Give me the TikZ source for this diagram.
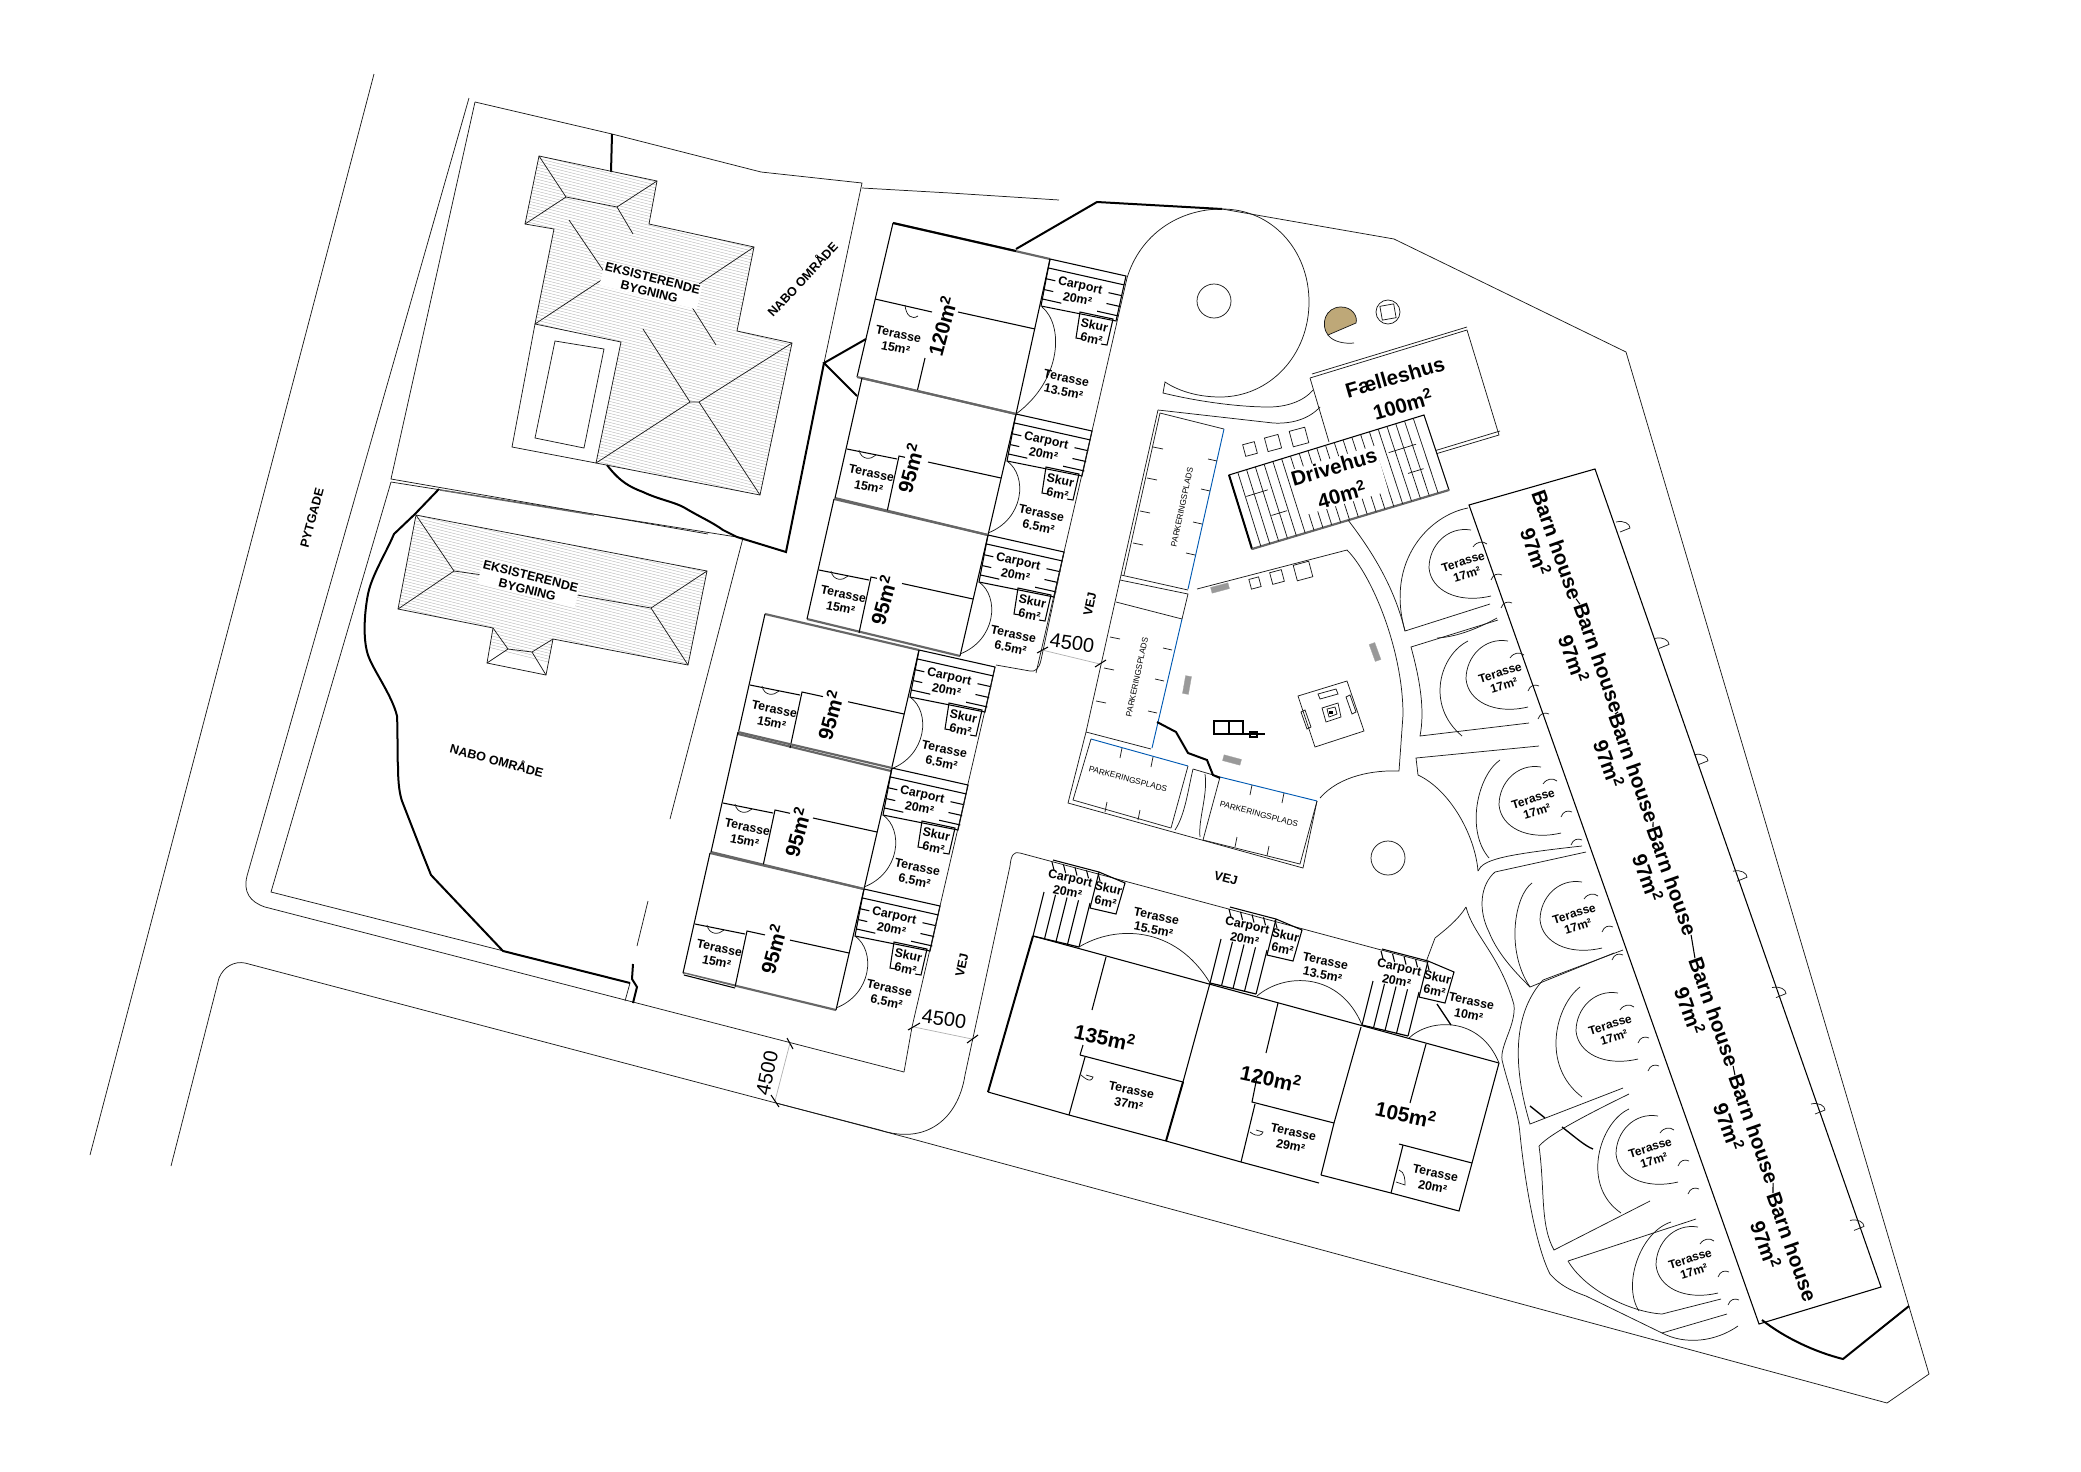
\documentclass[tikz,border=0pt]{standalone}
\usepackage{fontspec}
\setmainfont{Liberation Sans}
\definecolor{tanfill}{RGB}{190,168,120}
\tikzset{
  thinln/.style={line width=0.55pt,draw=black!90},
  heavyln/.style={line width=1.5pt,draw=black},
  wallln/.style={line width=0.8pt,draw=black},
  grayln/.style={line width=1.6pt,draw=black!60},
  blueln/.style={line width=0.7pt,draw=blue!50!cyan!70!black},
  hatchln/.style={line width=0.25pt,draw=black!35},
  terlbl/.style={rotate=-12,align=center,inner sep=0pt,font=\bfseries\fontsize{9.3}{10.6}\selectfont},
  gardlbl/.style={rotate=17,align=center,inner sep=0pt,font=\bfseries\fontsize{9}{10}\selectfont},
  arealbl/.style={rotate=75,align=center,inner sep=0pt,font=\bfseries\fontsize{15.5}{18}\selectfont},
  southar/.style={rotate=-12,inner sep=0pt,font=\bfseries\fontsize{15.5}{18}\selectfont},
  hallbl/.style={rotate=16,align=center,inner sep=0pt,font=\bfseries\fontsize{15.5}{22}\selectfont},
  barnlbl/.style={rotate=-70.5,inner sep=0pt,font=\bfseries\fontsize{15.5}{18}\selectfont},
  parklbl/.style={inner sep=0pt,font=\fontsize{6.2}{7}\selectfont},
  namelbl/.style={align=center,inner sep=1pt,font=\bfseries\fontsize{9.4}{10.4}\selectfont},
  dimlbl/.style={inner sep=0pt,font=\fontsize{15}{18}\selectfont},
}
\newcommand{\roofhatch}[1]{\begin{scope}\clip #1;
  \foreach \i in {90,93,...,600}{\draw[hatchln] (300,\i) -- ++(600,150);}
\end{scope}}
% carport and shed, origin on the house corner
\newcommand{\carskur}[1]{
  \draw[wallln] (0,0) -- (76,17) -- (66,62) -- (-9,47) -- cycle;
  \foreach \t/\fa/\fb in {0.19/0/1,0.42/0/0.12,0.42/0.82/1,0.65/0/0.12,0.65/0.82/1,0.85/0/0.25,0.85/0.72/1}
    {\draw[wallln] ({-9*\t+76*\fa},{47*\t+17*\fa}) -- ({-9*\t+76*\fb},{47*\t+17*\fb});}
  \draw[wallln] (32,80) -- (26,79) -- (30,53) -- (63,60) -- (57,86) -- (51,85);
  \node[terlbl] (#1car) at (29,33) {Carport\\20m²};
  \node[terlbl] (#1sk) at (43,73) {Skur\\6m²};
}
% one house of the west rows: x, y, name, label x, label y, gap end, stub end
\newcommand{\rowunit}[7]{\begin{scope}[shift={(#1,#2)}]
  \carskur{#3}
  \draw[grayln] (-154,-36) -- (0,0);
  \draw[grayln] (-181,84) -- (-28,121);
  \draw[wallln] (-154,-36) -- (-181,84);
  \draw[wallln] (0,0) -- (-28,121);
  \draw[wallln] (-129,98) -- (-117,42) -- (#7,{42+(#7+117)*0.2188});
  \draw[wallln] (-169,35) -- (-119,45);
  \draw[wallln] (#6,{64+(#6+15)*0.2188}) -- (-15,64);
  \draw[thinln] (-157,36) .. controls (-155,46) and (-145,46) .. (-140,41);
  \draw[thinln] (-9,47) .. controls (12,62) and (8,105) .. (-28,119);
  \draw[thinln] (76,17) -- (48,138);
  \node[terlbl] (#3tw) at (-146,66) {Terasse\\15m²};
  \node[terlbl] (#3te) at (24,106) {Terasse\\6.5m²};
  \node[arealbl] (#3ar) at (#4,#5) {95m\textsuperscript{2}};
\end{scope}}
% slats and shed of the south row
\newcommand{\southcar}[3]{\begin{scope}[shift={(#1,#2)}]
  \draw[heavyln,line width=0.9pt] (0,0) -- (46,11);
  \foreach \s in {0,0.25,0.5,0.75,1}{
    \draw[wallln] ({46*\s},{11*\s}) -- ({46*\s+11},{11*\s-44});
    \draw[wallln] ({46*\s+19},{11*\s-74}) -- ({46*\s+21},{11*\s-66});
  }
  \draw[wallln] (20,-76) -- (66,-64);
  \draw[wallln] (66,-64) -- (92,-53) -- (83,-22) -- (57,-28) -- (66,-64);
  \node[terlbl] (#3car) at (36,-51) {Carport\\20m²};
  \node[terlbl] (#3sk) at (74,-41) {Skur\\6m²};
\end{scope}}
% garden circle in front of the barn houses
\newcommand{\gardenunit}[3]{\begin{scope}[shift={(#1,#2)}]
  \draw[thinln] (6,-38) .. controls (-18,-42) and (-36,-22) .. (-36,0) .. controls (-34,22) and (-8,36) .. (26,28);
  \draw[thinln] (8,-21) .. controls (12,-27) and (18,-27) .. (22,-24);
  \draw[thinln] (26,12) .. controls (28,6) and (33,5) .. (37,7);
  \draw[thinln] (36,40) .. controls (38,34) and (43,33) .. (47,35);
  \node[gardlbl] (#3) at (0,0) {Terasse\\17m²};
\end{scope}}

\begin{document}
\begin{tikzpicture}[x=0.75pt,y=-0.75pt]
\useasboundingbox (0,0) rectangle (2081,1471);

%Streets
\draw[thinln] (374,74) -- (90,1155);
\draw[thinln] (469,98) -- (247,876) .. controls (243,892) and (250,902) .. (265,907) -- (904,1072);
\draw[thinln] (171,1166) -- (219,978) .. controls (224,966) and (235,961) .. (245,963) -- (776,1103) -- (905,1137) -- (1887,1403) -- (1929,1374) -- (1626,352) -- (1394,239) -- (1222,209);
\draw[thinln] (776,1103) -- (880,1130) .. controls (925,1145) and (958,1120) .. (965,1075) -- (1010,866) .. controls (1011,855) and (1014,851) .. (1020,853) -- (1426,962) -- (1435,938) .. controls (1445,930) and (1458,920) .. (1466,907);

%Neighbour plots
\draw[thinln] (475,102) -- (612,134) -- (761,172) -- (862,183) -- (824,363);
\draw[thinln] (475,102) -- (391,479) -- (708,534);
\draw[thinln] (391,482) -- (743,538) -- (670,819);
\draw[grayln,line width=1pt] (440,490) -- (594,515);
\draw[thinln] (391,482) -- (271,892) -- (630,983) -- (625,1001);
\draw[thinln] (648,901) -- (637,946);
\draw[thinln] (862,188) -- (950,193) -- (1059,200);
\draw[heavyln] (612,134) -- (611,172);
\draw[heavyln] (607,465) .. controls (620,482) and (630,487) .. (643,492) .. controls (660,500) and (675,502) .. (685,508) .. controls (700,517) and (712,522) .. (723,530) -- (737,537) -- (786,552) -- (824,363);
\draw[heavyln] (866,339) -- (824,363) -- (857,396);
\draw[heavyln] (1016,249) -- (1097,202) -- (1222,209);
\draw[heavyln] (439,489) -- (415,514) -- (394,534) .. controls (385,555) and (372,575) .. (368,594) .. controls (364,615) and (363,640) .. (368,655) .. controls (373,670) and (392,695) .. (397,716) .. controls (398,735) and (397,755) .. (398,766) .. controls (398,785) and (400,795) .. (402,801) -- (423,855) -- (431,875) -- (503,951) -- (630,983);
\draw[heavyln] (633,964) -- (632,979) -- (637,987) -- (633,1003);

%Roofs
\def\roofa{(539,156) -- (657,181) -- (649,224) -- (754,247) -- (737,331) -- (792,343) -- (760,495) -- (596,463) -- (621,342) -- (535,324) -- (554,229) -- (525,224) -- cycle}
\roofhatch{\roofa}
\draw[thinln] \roofa;
\draw[thinln] (535,324) -- (512,447) -- (596,463);
\draw[thinln] (555,341) -- (604,349) -- (584,448) -- (535,438) -- cycle;
\draw[thinln] (539,156) -- (566,197) -- (617,207) -- (657,181);
\draw[thinln] (525,224) -- (566,197);
\draw[thinln] (617,207) -- (633,234);
\draw[thinln] (569,220) -- (603,270);
\draw[thinln] (603,279) -- (535,324);
\draw[thinln] (754,247) -- (699,284);
\draw[thinln] (683,293) -- (716,345);
\draw[thinln] (643,329) -- (690,402) -- (699,402) -- (792,343);
\draw[thinln] (690,402) -- (596,463);
\draw[thinln] (699,402) -- (760,495);
\node[namelbl,rotate=-14,fill=white] (bygninga) at (651,285) {EKSISTERENDE\\BYGNING};
\def\roofb{(416,515) -- (707,571) -- (688,665) -- (553,639) -- (546,675) -- (487,663) -- (493,628) -- (398,609) -- cycle}
\roofhatch{\roofb}
\draw[thinln] \roofb;
\draw[thinln] (416,515) -- (454,571) -- (398,609);
\draw[thinln] (454,571) -- (490,576);
\draw[thinln] (560,592) -- (651,608) -- (707,571);
\draw[thinln] (651,608) -- (688,665);
\draw[thinln] (493,628) -- (508,649) -- (532,652) -- (553,639);
\draw[thinln] (508,649) -- (487,663);
\draw[thinln] (532,652) -- (546,675);
\node[namelbl,rotate=-14,fill=white] (bygningb) at (529,583) {EKSISTERENDE\\BYGNING};
\node[namelbl,rotate=47] (naboa) at (802,279) {NABO OMRÅDE};
\node[namelbl,rotate=-15] (nabob) at (497,760) {NABO OMRÅDE};
\node[namelbl,rotate=75] (pytgade) at (312,518) {PYTGADE};

%West rows
\draw[grayln] (893,223) -- (1050,259);
\draw[heavyln] (893,223) -- (1016,251);
\draw[wallln] (893,223) -- (857,377);
\draw[wallln] (1050,259) -- (1016,414);
\draw[grayln] (857,377) -- (1016,414);
\draw[wallln] (875,299) -- (932,312);
\draw[wallln] (958,312) -- (1035,329);
\draw[wallln] (917,392) -- (925,358);
\draw[thinln] (905,305) .. controls (906,316) and (912,320) .. (918,316);
\draw[thinln] (1042,307) .. controls (1064,325) and (1062,380) .. (1016,414);
\draw[thinln] (1127,278) -- (1092,431);
\begin{scope}[shift={(1050,259)}]
\carskur{one}
\end{scope}
\node[terlbl] (onetw) at (897,341) {Terasse\\15m²};
\node[terlbl] (onete) at (1065,385) {Terasse\\13.5m²};
\node[arealbl] (onear) at (942,326) {120m\textsuperscript{2}};
\rowunit{1016}{414}{two}{-106}{54}{-88}{-111}
\rowunit{988}{535}{three}{-105}{65}{-86}{-111}
\rowunit{919}{650}{four}{-89}{65}{-71}{-96}
\rowunit{892}{768}{five}{-95}{64}{-79}{-102}
\rowunit{864}{889}{six}{-91}{60}{-74}{-99}
\draw[thinln] (912,1027) -- (904,1072);
\draw[thinln] (1064,552) -- (1041,660) .. controls (1039,669) and (1035,672) .. (1030,671) -- (996,665);
\draw[grayln,draw=white,line width=2pt] (684,975) -- (735,988);
\draw[wallln] (684,975) -- (735,988);

%South row
\draw[wallln] (1033,936) -- (1499,1063);
\draw[heavyln] (1033,936) -- (988,1092);
\draw[wallln] (988,1092) -- (1069,1115) -- (1166,1141);
\draw[wallln] (1210,983) -- (1183,1082);
\draw[heavyln] (1183,1082) -- (1166,1141);
\draw[wallln] (1106,957) -- (1092,1010);
\draw[wallln] (1080,1055) -- (1183,1082);
\draw[wallln] (1085,1057) -- (1069,1115);
\draw[wallln] (1080,1055) -- (1083,1045);
\draw[thinln] (1081,1075) .. controls (1090,1083) and (1092,1080) .. (1093,1077) -- (1086,1075);
\draw[wallln] (1166,1141) -- (1241,1162) -- (1319,1183);
\draw[wallln] (1361,1027) -- (1334,1123) -- (1321,1175);
\draw[wallln] (1278,1003) -- (1266,1053);
\draw[wallln] (1257,1077) -- (1252,1102) -- (1334,1123);
\draw[wallln] (1255,1104) -- (1241,1162);
\draw[thinln] (1250,1132) .. controls (1258,1138) and (1262,1135) .. (1263,1132) -- (1256,1130);
\draw[wallln] (1321,1175) -- (1391,1193) -- (1459,1211) -- (1472,1163) -- (1499,1063);
\draw[wallln] (1426,1044) -- (1410,1103);
\draw[wallln] (1399,1144) -- (1472,1163);
\draw[wallln] (1403,1145) -- (1391,1193);
\draw[thinln] (1399,1170) .. controls (1405,1172) and (1405,1180) .. (1405,1185) -- (1396,1182);
\southcar{1033}{936}{sa}
\southcar{1210}{983}{sb}
\southcar{1362}{1025}{sc}
\draw[thinln] (1079,947) .. controls (1115,925) and (1175,925) .. (1210,983);
\draw[thinln] (1257,996) .. controls (1285,972) and (1340,972) .. (1362,1025);
\draw[thinln] (1409,1038) .. controls (1430,1018) and (1480,1016) .. (1499,1063);
\draw[heavyln,line width=1pt] (1437,1004) -- (1451,1025);
\node[southar] (areaa) at (1105,1037) {135m\textsuperscript{2}};
\node[southar] (areab) at (1271,1078) {120m\textsuperscript{2}};
\node[southar] (areac) at (1406,1114) {105m\textsuperscript{2}};
\node[terlbl] (tersa) at (1155,923) {Terasse\\15.5m²};
\node[terlbl] (tersb) at (1324,968) {Terasse\\13.5m²};
\node[terlbl] (tersc) at (1470,1008) {Terasse\\10m²};
\node[terlbl] (terna) at (1130,1097) {Terasse\\37m²};
\node[terlbl] (ternb) at (1292,1139) {Terasse\\29m²};
\node[terlbl] (ternc) at (1434,1180) {Terasse\\20m²};

%Road marks
\node[namelbl,rotate=78] (veja) at (1090,604) {VEJ};
\node[namelbl,rotate=78] (vejb) at (962,965) {VEJ};
\node[namelbl,rotate=-15] (vejc) at (1226,878) {VEJ};
\draw[thinln,draw=black!30] (1042,650) -- (1100,664);
\draw[wallln] (1037,653) -- (1048,647);
\draw[wallln] (1095,667) -- (1106,660);
\node[dimlbl,rotate=-8] (dima) at (1072,643) {4500};
\draw[thinln,draw=black!30] (914,1027) -- (972,1039);
\draw[wallln] (908,1030) -- (920,1023);
\draw[wallln] (967,1043) -- (978,1035);
\node[dimlbl,rotate=-8] (dimb) at (944,1019) {4500};
\draw[thinln,draw=black!30] (790,1043) -- (775,1101);
\draw[wallln] (787,1038) -- (793,1049);
\draw[wallln] (771,1095) -- (779,1107);
\node[dimlbl,rotate=78] (dimc) at (767,1073) {4500};

%Parking
\draw[thinln] (1158,410) -- (1121,575) -- (1086,732) -- (1068,803) -- (1303,868) -- (1317,801);
\draw[thinln] (1160,413) -- (1124,575);
\draw[thinln] (1158,410) -- (1273,423) .. controls (1290,424) and (1308,420) .. (1320,407);
\draw[thinln] (1160,413) -- (1224,429);
\draw[blueln] (1224,429) -- (1188,589);
\draw[thinln] (1121,575) -- (1188,590);
\draw[thinln] (1120,580) -- (1188,594) -- (1182,619);
\draw[thinln] (1116,602) -- (1182,619);
\draw[blueln] (1182,619) -- (1152,748);
\draw[thinln] (1086,732) -- (1151,749);
\draw[blueln] (1091,739) -- (1188,766);
\draw[thinln] (1188,766) -- (1171,828);
\draw[thinln] (1091,739) -- (1073,800) -- (1171,828);
\draw[thinln] (1193,769) -- (1220,777);
\draw[thinln] (1193,769) .. controls (1188,790) and (1185,815) .. (1175,830);
\draw[thinln] (1205,774) .. controls (1208,795) and (1198,820) .. (1200,837);
\draw[blueln] (1220,777) -- (1317,801);
\draw[thinln] (1220,777) -- (1203,840) -- (1300,864) -- (1317,801);
\foreach \x/\y in {1153/447,1147/478,1140/511,1133/543,1110/637,1104/668,1096/701}
  {\draw[thinln] (\x,\y) -- ++(10,2);}
\foreach \x/\y in {1217/461,1210/491,1202/524,1195/555,1172/650,1164/681,1157/713}
  {\draw[thinln] (\x,\y) -- ++(-9,-2);}
\foreach \x/\y in {1122/748,1153/757,1252/785,1284/793,1107/802,1140/810,1237/837,1269/846}
  {\draw[thinln] (\x,\y) -- ++(-2,10);}
\node[parklbl,rotate=78] (parka) at (1182,507) {PARKERINGSPLADS};
\node[parklbl,rotate=78] (parkb) at (1137,677) {PARKERINGSPLADS};
\node[parklbl,rotate=-15] (parkc) at (1128,779) {PARKERINGSPLADS};
\node[parklbl,rotate=-15] (parkd) at (1259,814) {PARKERINGSPLADS};
\draw[heavyln] (1157,722) -- (1176,732) -- (1188,753) -- (1207,760) -- (1213,775) -- (1220,778);

%Plaza
\draw[thinln] (1197,589) -- (1347,550) .. controls (1372,575) and (1403,650) .. (1403,715) -- (1399,771) .. controls (1375,770) and (1340,775) .. (1320,798);
\draw[thinln] (1298,696) -- (1347,681) -- (1364,731) -- (1315,747) -- cycle;
\draw[thinln] (1318,694) -- (1336,689) -- (1338,694) -- (1320,699) -- cycle;
\draw[thinln] (1350,695) -- (1356,712) -- (1352,714) -- (1346,697) -- cycle;
\draw[thinln] (1305,710) -- (1311,727) -- (1307,729) -- (1301,712) -- cycle;
\draw[thinln] (1322,708) -- (1338,703) -- (1341,717) -- (1326,722) -- cycle;
\draw[thinln] (1327,709) -- (1335,707) -- (1337,714) -- (1329,717) -- cycle;
\fill (1329,711) rectangle (1333,714);
\draw[wallln] (1214,721) rectangle (1243,734);
\draw[wallln] (1229,721) -- (1229,734);
\draw[wallln] (1243,734) -- (1265,734);
\draw[wallln] (1250,732) rectangle (1257,737);
\foreach \x/\y/\r in {1187/685/80,1232/760/-15,1375/652/-70,1220/588/15}{
  \draw[hatchln,fill=black!40,rotate around={\r:(\x,\y)}] ({\x-9},{\y-3}) rectangle ({\x+9},{\y+3});
}
\foreach \x/\y/\s in {1255/583/5,1277/577/6,1303/571/8,1250/449/6,1273/443/7,1299/437/8}{
  \draw[thinln,rotate around={15:(\x,\y)}] ({\x-\s},{\y-\s}) rectangle ({\x+\s},{\y+\s});
}
\draw[thinln] (1388,858) circle [radius=17];

%Cul-de-sac
\draw[thinln] (1127,278) .. controls (1140,235) and (1178,209) .. (1222,209) .. controls (1272,209) and (1309,250) .. (1309,302) .. controls (1309,355) and (1270,397) .. (1220,397) .. controls (1200,397) and (1180,392) .. (1165,382) -- (1163,393) .. controls (1200,402) and (1240,407) .. (1269,407) .. controls (1285,407) and (1303,402) .. (1313,390);
\draw[thinln] (1214,301) circle [radius=17];
\draw[thinln,fill=tanfill] (1328,335) .. controls (1320,325) and (1325,307) .. (1341,307) .. controls (1352,307) and (1358,316) .. (1356,323) -- cycle;
\draw[thinln] (1328,335) .. controls (1333,342) and (1345,344) .. (1354,343);
\draw[thinln] (1388,312) circle [radius=12];
\draw[thinln,rotate around={10:(1388,312)}] (1381,305) rectangle (1395,319);

%Halls
\draw[thinln] (1310,378) -- (1467,330) -- (1499,435) -- (1432,455);
\draw[thinln] (1310,378) -- (1329,442);
\draw[thinln] (1312,374) -- (1467,327);
\draw[thinln] (1500,431) -- (1434,451);
\node[hallbl] (fall) at (1399,391) {Fælleshus\\100m\textsuperscript{2}};
\draw[wallln,fill=white] (1229,475) -- (1424,415) -- (1449,490) -- (1252,549) -- cycle;
\draw[heavyln] (1229,475) -- (1252,549);
\draw[grayln] (1252,549) -- (1449,490);
\foreach \u in {0.045,0.09,...,0.96}{
  \draw[thinln] ({1229+195*\u},{475-60*\u}) -- ({1252+197*\u},{549-59*\u});
}
\foreach \a/\b/\c in {0.05/0.16/0.33,0.14/0.22/0.66,0.78/0.92/0.33,0.84/0.92/0.66}{
  \draw[thinln] ({1229+195*\a+23*\c},{475-60*\a+74*\c}) -- ({1229+195*\b+23*\c},{475-60*\b+74*\c});
}
\node[hallbl,fill=white,inner sep=1pt] (drive) at (1338,481) {Drivehus\\40m\textsuperscript{2}};

%Barn houses
\draw[wallln] (1469,505) -- (1595,469) -- (1881,1287) -- (1759,1324) -- cycle;
\foreach \i in {0,...,6}{
  \draw[thinln] ({1616+39*\i},{522+116.4*\i}) .. controls ({1624+39*\i},{520+116.4*\i}) and ({1630+39*\i},{524+116.4*\i}) .. ({1630+39*\i},{528+116.4*\i}) -- ({1620+39*\i},{532+116.4*\i});
}
\node[barnlbl] (barna) at (1557,545) {Barn house};
\node[barnlbl] (barnb) at (1599,658) {Barn house};
\node[barnlbl] (barnc) at (1634,768) {Barn house};
\node[barnlbl] (barnd) at (1672,881) {Barn house};
\node[barnlbl] (barne) at (1714,1012) {Barn house};
\node[barnlbl] (barnf) at (1754,1129) {Barn house};
\node[barnlbl] (barng) at (1792,1247) {Barn house};
\foreach \p/\q in {barna/barnb,barnb/barnc,barnc/barnd,barnd/barne,barne/barnf,barnf/barng}{
  \draw[wallln] (\p.east) -- (\q.west);
}
\foreach \n/\x/\y in {ma/1536/552,mb/1574/659,mc/1609/764,md/1648/878,me/1690/1011,mf/1729/1127,mg/1766/1245}{
  \node[barnlbl] (\n) at (\x,\y) {97m\textsuperscript{2}};
}
\gardenunit{1465}{568}{gda}
\gardenunit{1502}{679}{gdb}
\gardenunit{1535}{805}{gdc}
\gardenunit{1576}{920}{gdd}
\gardenunit{1612}{1031}{gde}
\gardenunit{1652}{1154}{gdf}
\gardenunit{1692}{1265}{gdg}

%Garden paths
\draw[thinln] (1348,520) .. controls (1375,555) and (1395,590) .. (1405,631) -- (1490,604);
\draw[thinln] (1468,508) .. controls (1430,515) and (1385,560) .. (1405,631);
\draw[thinln] (1437,638) .. controls (1455,637) and (1475,630) .. (1497,618);
\draw[thinln] (1498,620) -- (1411,647) .. controls (1420,680) and (1425,710) .. (1420,736) -- (1529,723);
\draw[thinln] (1468,641) .. controls (1440,655) and (1425,705) .. (1462,736);
\draw[thinln] (1539,746) -- (1416,758) -- (1418,775) .. controls (1450,790) and (1475,835) .. (1478,871);
\draw[thinln] (1500,760) .. controls (1478,775) and (1465,830) .. (1489,858);
\draw[thinln] (1478,871) .. controls (1483,860) and (1500,855) .. (1582,846);
\draw[thinln] (1586,852) -- (1495,872) .. controls (1480,885) and (1478,910) .. (1489,932) .. controls (1498,955) and (1518,975) .. (1530,987) -- (1614,953);
\draw[thinln] (1532,883) .. controls (1515,895) and (1505,950) .. (1530,987);
\draw[thinln] (1466,907) .. controls (1473,935) and (1500,955) .. (1514,1005) .. controls (1516,1025) and (1500,1045) .. (1502,1060) .. controls (1508,1085) and (1518,1110) .. (1520,1134) .. controls (1524,1175) and (1535,1245) .. (1550,1274) .. controls (1562,1288) and (1578,1293) .. (1586,1296) -- (1662,1333) .. controls (1685,1345) and (1715,1342) .. (1738,1326);
\draw[thinln] (1543,980) -- (1623,950);
\draw[thinln] (1543,980) .. controls (1525,1000) and (1505,1040) .. (1530,1124) -- (1623,1088);
\draw[thinln] (1580,987) .. controls (1556,1005) and (1540,1065) .. (1582,1097);
\draw[thinln] (1539,1146) .. controls (1545,1140) and (1555,1130) .. (1629,1094);
\draw[thinln] (1539,1146) .. controls (1545,1190) and (1540,1225) .. (1554,1250) -- (1650,1201);
\draw[thinln] (1629,1109) .. controls (1600,1122) and (1580,1185) .. (1621,1213);
\draw[thinln] (1568,1261) -- (1696,1219);
\draw[thinln] (1568,1261) .. controls (1585,1290) and (1630,1312) .. (1662,1314) -- (1721,1299);
\draw[thinln] (1671,1222) .. controls (1640,1232) and (1622,1285) .. (1639,1311);
\draw[thinln] (1662,1333) -- (1727,1314);
\draw[heavyln,line width=1pt] (1530,1106) -- (1545,1118);
\draw[heavyln,line width=1pt] (1562,1127) .. controls (1575,1137) and (1585,1146) .. (1593,1149);
\draw[heavyln] (1762,1320) .. controls (1785,1338) and (1815,1352) .. (1843,1359) -- (1909,1306);
\end{tikzpicture}
\end{document}
